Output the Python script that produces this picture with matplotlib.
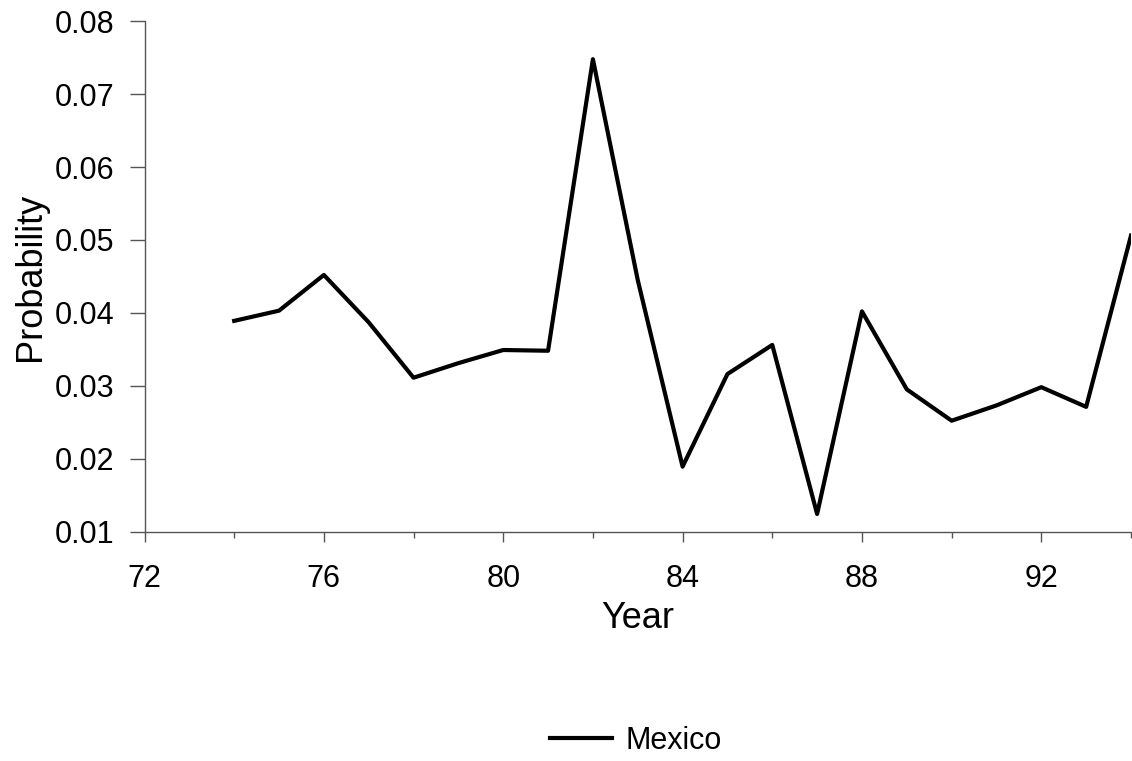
import numpy as np
import matplotlib.pyplot as plt

# values
years = [74, 75, 76, 77, 78, 79, 80, 81, 82, 83, 84,
         85, 86, 87, 88, 89, 90, 91, 92, 93, 94]
mexico = [0.0389, 0.0403, 0.0452, 0.0387, 0.0311, 0.0331, 0.0349, 0.0348,
          0.0748, 0.0445, 0.0189, 0.0316, 0.0356, 0.0124, 0.0402, 0.0295,
          0.0252, 0.0273, 0.0298, 0.0271, 0.0506]
x_major = [72, 76, 80, 84, 88, 92]
y_ticks = [0.01, 0.02, 0.03, 0.04, 0.05, 0.06, 0.07, 0.08]

plt.rcParams['font.family'] = ['Liberation Sans', 'DejaVu Sans']

fig = plt.figure(figsize=(11.32, 7.61), dpi=100)
# axes box in pixels: left 144, right 1131, top 21, bottom 531
ax = fig.add_axes([144.5 / 1132, 1 - 531.5 / 761, (1131 - 144.5) / 1132, (531.5 - 21.3) / 761])

ax.plot(years, mexico, color='black', linewidth=3, label='Mexico')

ax.set_xlim(72, 94)
ax.set_ylim(0.01, 0.08)
ax.set_xticks(x_major)
ax.set_xticks([x for x in np.arange(72, 95, 2) if x not in x_major], minor=True)
ax.set_yticks(y_ticks)
ax.set_yticklabels([f'{v:.2f}' for v in y_ticks])

for side in ['top', 'right']:
    ax.spines[side].set_visible(False)
for side in ['left', 'bottom']:
    ax.spines[side].set_color('#555555')
    ax.spines[side].set_linewidth(1)

ax.tick_params(axis='both', which='both', direction='out', color='#555555',
               labelsize=22, width=1)
ax.tick_params(axis='x', which='major', length=7, pad=16.5)
ax.tick_params(axis='x', which='minor', length=4.2)
ax.tick_params(axis='y', which='major', length=11, pad=11)

ax.set_xlabel('Year', fontsize=26, labelpad=5)
ax.set_ylabel('Probability', fontsize=26, labelpad=4.5)

fig.legend(loc='center', bbox_to_anchor=(0.562, 1 - 741 / 761), frameon=False,
           fontsize=22, handlelength=2.0, handletextpad=0.46)

fig.savefig('out.png', dpi=100)
plt.close(fig)
